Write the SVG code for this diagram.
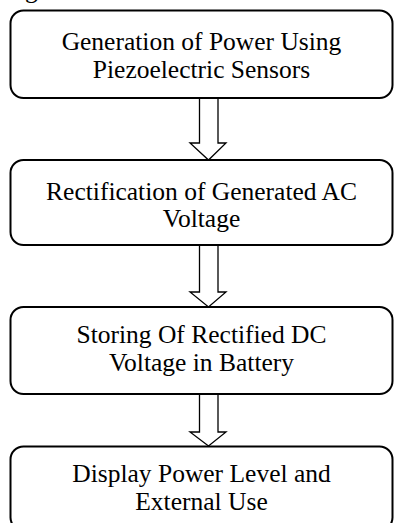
<svg xmlns="http://www.w3.org/2000/svg" width="395" height="523" viewBox="0 0 395 523">
<style>
.box{fill:#fff;stroke:#000;stroke-width:2}
.arr{fill:#fff;stroke:#000;stroke-width:1.3;stroke-linejoin:miter}
.t{font-family:'Liberation Serif','Times New Roman',serif;font-size:25.5px;fill:#000;text-anchor:middle}
</style>
<rect width="395" height="523" fill="#fff"/>
<text class="t" x="25" y="-2" style="text-anchor:start">g</text>
<g id="connectors">
<path class="arr" d="M199.5,98 V143 H190 L208.5,160 L226,143 H218 V98"/>
<path class="arr" d="M199.5,245 V292 H190 L208.5,307 L226,292 H218 V245"/>
<path class="arr" d="M199.5,394 V432 H190 L208.5,446 L226,432 H218 V394"/>
</g>
<g id="n1">
<rect class="box" x="10.5" y="10.5" width="382" height="87.5" rx="13"/>
<text class="t" x="201.5" y="50">Generation of Power Using</text>
<text class="t" x="201.5" y="78">Piezoelectric Sensors</text>
</g>
<g id="n2">
<rect class="box" x="10.5" y="160" width="382" height="85" rx="13"/>
<text class="t" x="201.5" y="200">Rectification of Generated AC</text>
<text class="t" x="201.5" y="227">Voltage</text>
</g>
<g id="n3">
<rect class="box" x="10.5" y="307" width="382" height="87" rx="13"/>
<text class="t" x="201.5" y="343">Storing Of Rectified DC</text>
<text class="t" x="201.5" y="371">Voltage in Battery</text>
</g>
<g id="n4">
<rect class="box" x="10.5" y="446.5" width="382" height="84" rx="13"/>
<text class="t" x="201.5" y="482">Display Power Level and</text>
<text class="t" x="201.5" y="510">External Use</text>
</g>
</svg>
